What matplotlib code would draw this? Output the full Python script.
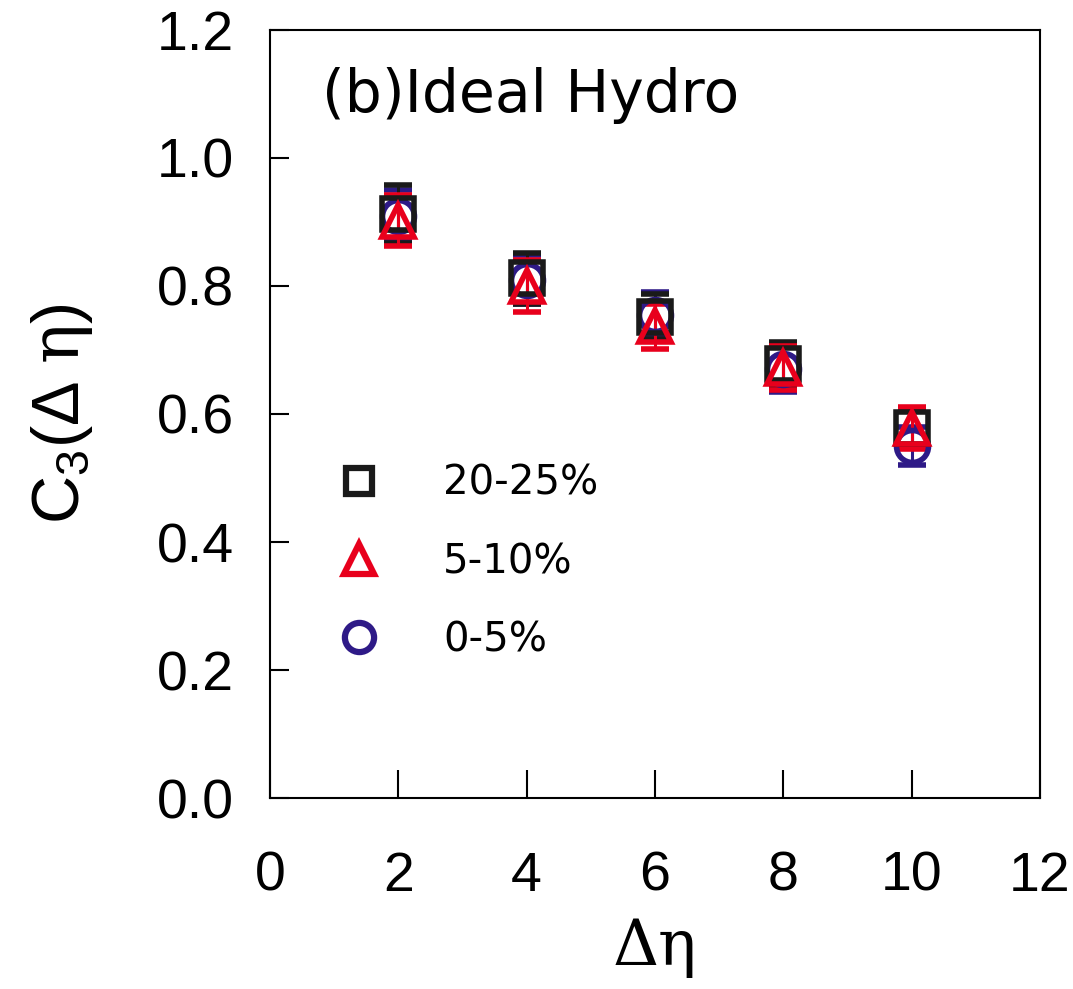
import matplotlib
matplotlib.use('Agg')
import matplotlib.pyplot as plt
from matplotlib.lines import Line2D

# data
deta = [2, 4, 6, 8, 10]

c3_0_5 = [0.91, 0.81, 0.755, 0.670, 0.550]
err_0_5 = [0.04, 0.038, 0.035, 0.035, 0.030]

c3_20_25 = [0.912, 0.812, 0.752, 0.678, 0.578]
err_20_25 = [0.045, 0.04, 0.035, 0.035, 0.028]

c3_5_10 = [0.902, 0.800, 0.737, 0.672, 0.578]
err_5_10 = [0.040, 0.040, 0.035, 0.035, 0.033]

labels = ['20-25%', '5-10%', '0-5%']
colors = {'20-25%': '#1a1a1a', '5-10%': '#e8001c', '0-5%': '#2e1a87'}

plt.rcParams['font.family'] = ['Liberation Sans', 'DejaVu Sans']
plt.rcParams['mathtext.fontset'] = 'custom'
plt.rcParams['mathtext.rm'] = 'Liberation Sans'
plt.rcParams['mathtext.it'] = 'DejaVu Serif'

fig = plt.figure(figsize=(10.73, 9.89), dpi=100)
ax = fig.add_axes([0.2516, 0.1931, 0.7176, 0.7766])

common = dict(linestyle='none', capsize=10, capthick=2.5, elinewidth=2.2,
              mfc='none', mew=4, ms=23)

ax.errorbar(deta, c3_0_5, yerr=err_0_5, marker='o', color=colors['0-5%'], **common)
ax.errorbar(deta, c3_20_25, yerr=err_20_25, marker='s', color=colors['20-25%'], **common)
ax.errorbar(deta, c3_5_10, yerr=err_5_10, marker='^', color=colors['5-10%'], **common)

# legend (markers only)
handles = [Line2D([], [], marker='s', ls='none', mfc='none', mec=colors['20-25%'], mew=4.5, ms=19),
           Line2D([], [], marker='^', ls='none', mfc='none', mec=colors['5-10%'], mew=4.5, ms=21),
           Line2D([], [], marker='o', ls='none', mfc='none', mec=colors['0-5%'], mew=4.5, ms=21)]
ax.legend(handles, labels, loc='upper left', bbox_to_anchor=(0.068, 0.456),
          frameon=False, prop={'family': 'DejaVu Sans', 'size': 29},
          handletextpad=1.6, labelspacing=0.95, handlelength=1.0, borderaxespad=0)

ax.text(0.067, 0.915, '(b)Ideal Hydro', transform=ax.transAxes, fontsize=42,
        family='DejaVu Sans', ha='left', va='center')

ax.set_xlim(0, 12)
ax.set_ylim(0, 1.2)
ax.set_xticks([0, 2, 4, 6, 8, 10, 12])
ax.set_yticks([0.0, 0.2, 0.4, 0.6, 0.8, 1.0, 1.2])
ax.set_yticklabels(['0.0', '0.2', '0.4', '0.6', '0.8', '1.0', '1.2'])
ax.tick_params(axis='x', direction='in', length=20, width=1.5, labelsize=40, pad=38)
ax.tick_params(axis='y', direction='in', length=14, width=1.5, labelsize=40, pad=26)
for s in ax.spines.values():
    s.set_linewidth(1.5)

ax.set_xlabel('Δη', fontsize=46, family='DejaVu Serif', labelpad=10)
ax.set_ylabel(r'C$_3$($\Delta\;\eta$)', fontsize=48, labelpad=44)

fig.savefig('out.png', dpi=100)
